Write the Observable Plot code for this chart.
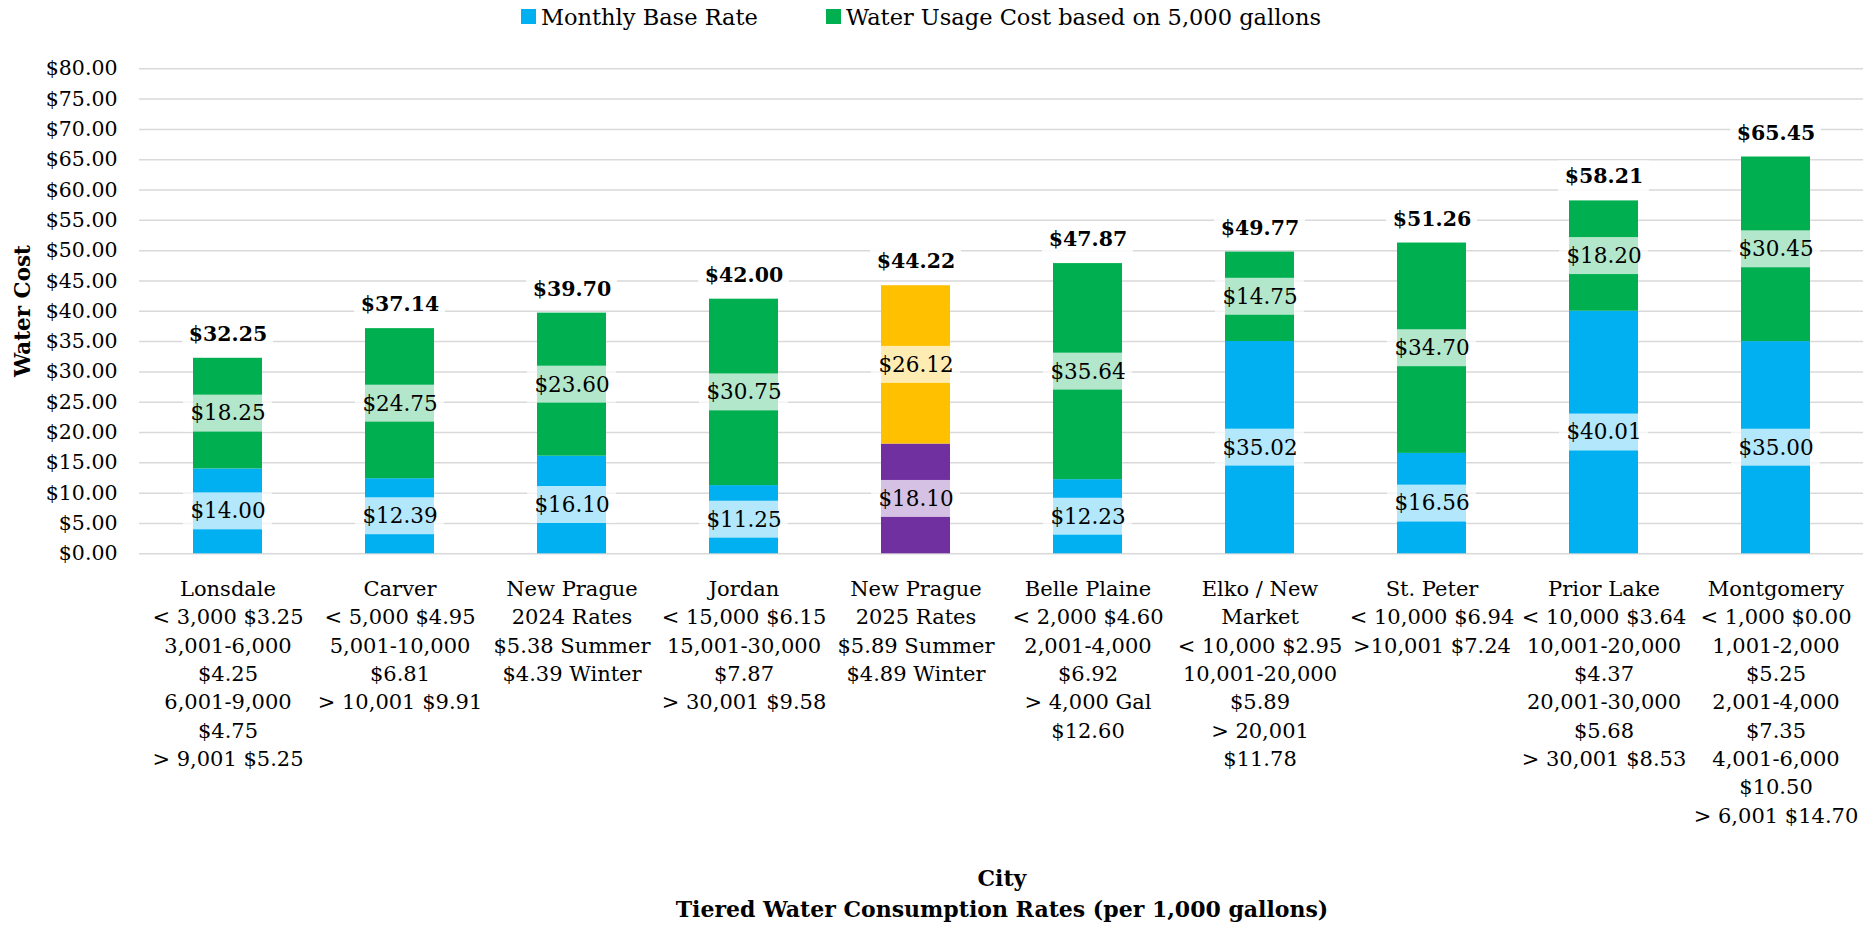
<!DOCTYPE html>
<html>
<head>
<meta charset="utf-8">
<script src="https://cdn.jsdelivr.net/npm/d3@7"></script>
<script src="https://cdn.jsdelivr.net/npm/@observablehq/plot@0.6"></script>
<style>
  html, body { margin: 0; padding: 0; background: #fff; }
  #wrap { position: relative; width: 1868px; height: 925px; font-family: "DejaVu Serif", serif; color: #000; }
  #chart { position: absolute; left: 0; top: 0; }
  .leg { position: absolute; top: 0; height: 33px; display: flex; align-items: center; font-size: 22.5px; white-space: nowrap; }
  .sw { display: inline-block; width: 15px; height: 15px; margin-right: 5px; }
  .ttl { position: absolute; left: 0; width: 2004px; text-align: center; font-weight: bold; font-size: 22px; white-space: nowrap; }
  #ytitle { position: absolute; left: 21.5px; top: 311px; transform: translate(-50%, -50%) rotate(-90deg); font-weight: bold; font-size: 21.5px; white-space: nowrap; }
</style>
</head>
<body>
<div id="wrap">
  <div id="chart"></div>
  <div class="leg" style="left:521px"><span class="sw" style="background:#00B0F0"></span><span id="leg1"></span></div>
  <div class="leg" style="left:826px"><span class="sw" style="background:#00B050"></span><span id="leg2"></span></div>
  <div id="ytitle">Water Cost</div>
  <div class="ttl" style="top:865px">City</div>
  <div class="ttl" style="top:896px">Tiered Water Consumption Rates (per 1,000 gallons)</div>
</div>
<script>
// ---------- data ----------
const cities = [
  "Lonsdale", "Carver", "New Prague 2024", "Jordan", "New Prague 2025",
  "Belle Plaine", "Elko / New Market", "St. Peter", "Prior Lake", "Montgomery"
];
const tierLabels = [
  ["Lonsdale", "< 3,000 $3.25", "3,001-6,000", "$4.25", "6,001-9,000", "$4.75", "> 9,001 $5.25"],
  ["Carver", "< 5,000 $4.95", "5,001-10,000", "$6.81", "> 10,001 $9.91"],
  ["New Prague", "2024 Rates", "$5.38 Summer", "$4.39 Winter"],
  ["Jordan", "< 15,000 $6.15", "15,001-30,000", "$7.87", "> 30,001 $9.58"],
  ["New Prague", "2025 Rates", "$5.89 Summer", "$4.89 Winter"],
  ["Belle Plaine", "< 2,000 $4.60", "2,001-4,000", "$6.92", "> 4,000 Gal", "$12.60"],
  ["Elko / New", "Market", "< 10,000 $2.95", "10,001-20,000", "$5.89", "> 20,001", "$11.78"],
  ["St. Peter", "< 10,000 $6.94", ">10,001 $7.24"],
  ["Prior Lake", "< 10,000 $3.64", "10,001-20,000", "$4.37", "20,001-30,000", "$5.68", "> 30,001 $8.53"],
  ["Montgomery", "< 1,000 $0.00", "1,001-2,000", "$5.25", "2,001-4,000", "$7.35", "4,001-6,000", "$10.50", "> 6,001 $14.70"]
];
const baseRate  = [14.00, 12.39, 16.10, 11.25, 18.10, 12.23, 35.02, 16.56, 40.01, 35.00];
const usageCost = [18.25, 24.75, 23.60, 30.75, 26.12, 35.64, 14.75, 34.70, 18.20, 30.45];
const totals    = [32.25, 37.14, 39.70, 42.00, 44.22, 47.87, 49.77, 51.26, 58.21, 65.45];
const seriesNames = ["Monthly Base Rate", "Water Usage Cost based on 5,000 gallons"];
const yTicks = [0, 5, 10, 15, 20, 25, 30, 35, 40, 45, 50, 55, 60, 65, 70, 75, 80];

// ---------- styling ----------
const highlighted = "New Prague 2025";
const colors = {normal: ["#00B0F0", "#00B050"], highlight: ["#7030A0", "#FFC000"]};
document.getElementById("leg1").textContent = seriesNames[0];
document.getElementById("leg2").textContent = seriesNames[1];

// ---------- tables ----------
const rows = cities.flatMap((c, i) => [
  {city: c, series: 0, value: baseRate[i], lo: 0, hi: baseRate[i]},
  {city: c, series: 1, value: usageCost[i], lo: baseRate[i], hi: baseRate[i] + usageCost[i]}
]);
rows.forEach(r => { r.mid = (r.lo + r.hi) / 2; r.fill = (r.city === highlighted ? colors.highlight : colors.normal)[r.series]; });
const totalRows = cities.map((c, i) => ({city: c, total: totals[i]}));
const labelOf = new Map(cities.map((c, i) => [c, tierLabels[i].join("\n")]));
const money = v => "$" + v.toFixed(2);

const chart = Plot.plot({
  width: 1868,
  height: 925,
  marginLeft: 139,
  marginRight: 5,
  marginTop: 68.3,
  marginBottom: 371.7,
  style: {fontFamily: "DejaVu Serif, serif", fontSize: "20.5px", color: "#000", background: "transparent"},
  x: {domain: cities, range: [139, 1864], paddingInner: 0.6, paddingOuter: 0.3},
  y: {domain: [0, 80], range: [553.3, 68.3]},
  marks: [
    Plot.gridY(yTicks, {stroke: "#d9d9d9", strokeOpacity: 1, strokeWidth: 1.5}),
    Plot.barY(rows, {x: "city", y1: "lo", y2: "hi", fill: d => d.fill}),
    // translucent label boxes
    Plot.barY(rows, {x: "city", y1: "mid", y2: "mid", fill: "white", fillOpacity: 0.7,
      insetTop: -18.5, insetBottom: -18.5, insetLeft: -10, insetRight: -10}),
    Plot.text(rows, {x: "city", y: "mid", text: d => money(d.value), fontSize: 21.5, fill: "#000"}),
    // total labels
    Plot.barY(totalRows, {x: "city", y1: "total", y2: "total", fill: "white", fillOpacity: 0.85,
      insetTop: -40, insetBottom: 8, insetLeft: -11, insetRight: -11}),
    Plot.text(totalRows, {x: "city", y: "total", dy: -24, text: d => money(d.total), fontSize: 20.5, fontWeight: "bold", fill: "#000"}),
    Plot.axisY({ticks: yTicks, tickFormat: money, tickSize: 0, tickPadding: 22, fontSize: 20.5, label: null}),
    Plot.axisX({tickSize: 0, tickPadding: 22, fontSize: 21, lineHeight: 1.35, lineAnchor: "top",
      tickFormat: c => labelOf.get(c), label: null})
  ]
});
document.getElementById("chart").appendChild(chart);
</script>
</body>
</html>
